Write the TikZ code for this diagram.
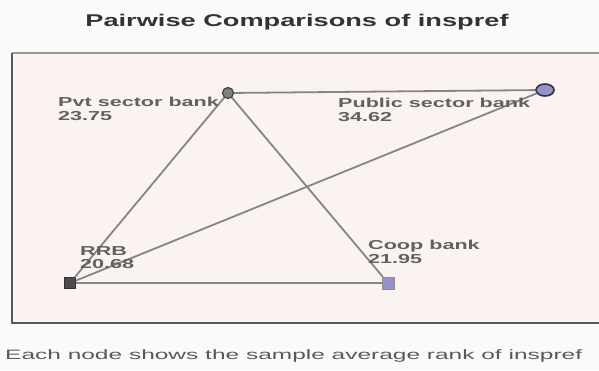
\documentclass[tikz,border=0pt]{standalone}
\usepackage{fontspec}
\usetikzlibrary{shapes.geometric}
\setmainfont{Liberation Sans}[FakeStretch=1.6]
\newfontfamily\lblfont{Liberation Sans}[FakeStretch=1.66,UprightFont=*-Bold]
\newfontfamily\footfont{Liberation Sans}[FakeStretch=1.8]
\definecolor{nodepurple}{HTML}{9690CC}
\definecolor{bgpink}{HTML}{FBF3F1}
\begin{document}
\begin{tikzpicture}[x=1pt,y=-1pt,
  edge/.style={draw=black!48,line width=1.8pt},
  lbl/.style={anchor=north west,inner sep=0pt,align=left,text=black!62,font=\lblfont\fontsize{13}{13.5}\selectfont},
  grpdark/.style={rectangle,fill=black!70,draw=black!80,minimum size=11pt,inner sep=0pt},
  grppurple/.style={rectangle,fill=nodepurple,draw=black!45,minimum size=12pt,inner sep=0pt},
  grpcircle/.style={circle,fill=black!50,draw=black!75,line width=1.2pt,minimum size=11pt,inner sep=0pt},
  grpellipse/.style={ellipse,fill=nodepurple,draw=black!80,line width=1.6pt,minimum width=18pt,minimum height=12pt,inner sep=0pt}]
\fill[black!2] (0,0) rectangle (599,370);
\useasboundingbox (0,0) rectangle (599,370);
% frame
\fill[bgpink] (12,53) rectangle (610,323);
\draw[black!40,line width=2pt] (12,53) -- (610,53);
\draw[black!65,line width=2.2pt] (12,53) -- (12,323) -- (610,323);
% title
\node[font=\bfseries\fontsize{17}{19}\selectfont,text=black!80,inner sep=0pt] (title) at (297,22) {Pairwise Comparisons of inspref};
% nodes
\node[grpcircle] (pvt) at (228,93) {};
\node[grpellipse] (pub) at (545,90) {};
\node[grpdark] (rrb) at (70,283) {};
\node[grppurple] (coop) at (388,283) {};
% edges
\draw[edge] (pvt) -- (pub);
\draw[edge] (pvt) -- (rrb);
\draw[edge] (pvt) -- (coop);
\draw[edge] (pub) -- (rrb);
\draw[edge] (rrb) -- (coop);
% labels
\node[lbl] (lpvt) at (58,97) {Pvt sector bank\\23.75};
\node[lbl] (lpub) at (338,98) {Public sector bank\\34.62};
\node[lbl] (lrrb) at (80,246) {RRB\\20.68};
\node[lbl] (lcoop) at (368,240) {Coop bank\\21.95};
% footer
\node[anchor=west,inner sep=0pt,text=black!65,font=\footfont\fontsize{13.6}{15}\selectfont] (foot) at (5,356) {Each node shows the sample average rank of inspref};
\end{tikzpicture}
\end{document}
